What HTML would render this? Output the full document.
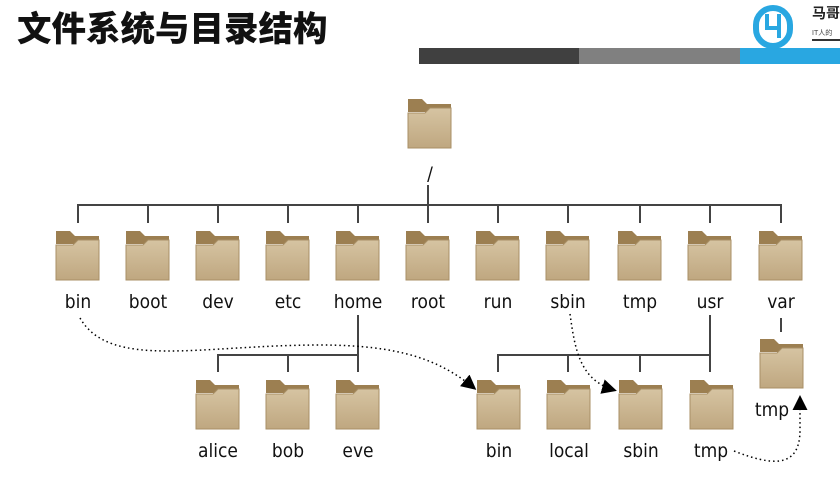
<!DOCTYPE html>
<html><head><meta charset="utf-8"><style>
body{margin:0;width:840px;height:479px;background:#fff;overflow:hidden;position:relative}
.t{position:absolute;left:17px;top:1px;font:900 34.5px "Liberation Sans","Noto Sans CJK SC",sans-serif;color:#111;letter-spacing:0px}
</style></head><body>
<div class="t">文件系统与目录结构</div>
<svg width="840" height="479" style="position:absolute;left:0;top:0">
<defs>
<linearGradient id="g" x1="0" y1="0" x2="0" y2="1"><stop offset="0" stop-color="#d6c4a2"/><stop offset="1" stop-color="#bfa780"/></linearGradient>
<g id="f">
<path d="M0,3 h14 l5,5 h24 v8 h-43z" fill="#9c7f51"/>
<path d="M0,17 h17 l5,-5 h21 v40 h-43z" fill="url(#g)" stroke="#a88f66" stroke-width="1"/>
</g>
<marker id="a" markerWidth="10" markerHeight="10" refX="8" refY="5" orient="auto"><path d="M0,0 L10,5 L0,10z" fill="#000"/></marker>
</defs>
<rect x="419" y="48" width="160" height="16" fill="#404040"/>
<rect x="579" y="48" width="161" height="16" fill="#808080"/>
<rect x="740" y="48" width="100" height="16" fill="#29a7e1"/>
<g fill="none" stroke="#29a7e1" stroke-width="6"><rect x="756" y="8" width="34" height="38" rx="17"/></g>
<path d="M767,14 v14 h12 M779,14 v24" stroke="#29a7e1" stroke-width="4" fill="none"/>
<text x="812" y="18" font-family="Liberation Sans,Noto Sans CJK SC,sans-serif" font-size="14" font-weight="bold" fill="#222">马哥</text>
<text x="812" y="35" font-family="Liberation Sans,Noto Sans CJK SC,sans-serif" font-size="7" fill="#444">IT人的</text>
<line x1="812" y1="40" x2="840" y2="40" stroke="#333" stroke-width="2"/>
<g stroke="#444" stroke-width="2" fill="none">
<path d="M428,185 V205 M78,223 V205 H781 V223"/>
<path d="M148,205V223M218,205V223M288,205V223M358,205V223M428,205V223M498,205V223M568,205V223M640,205V223M710,205V223"/>
<path d="M358,315 V355 H218 V372 M288,355V372 M358,355V372"/>
<path d="M710,315 V355 H498 V372 M568,355V372 M640,355V372 M710,355V372"/>
<path d="M781,318 V332"/>
</g>
<use href="#f" x="408" y="96"/>
<use href="#f" x="56" y="228"/><use href="#f" x="126" y="228"/><use href="#f" x="196" y="228"/><use href="#f" x="266" y="228"/><use href="#f" x="336" y="228"/><use href="#f" x="406" y="228"/><use href="#f" x="476" y="228"/><use href="#f" x="546" y="228"/><use href="#f" x="618" y="228"/><use href="#f" x="688" y="228"/><use href="#f" x="759" y="228"/>
<use href="#f" x="196" y="377"/><use href="#f" x="266" y="377"/><use href="#f" x="336" y="377"/>
<use href="#f" x="477" y="377"/><use href="#f" x="547" y="377"/><use href="#f" x="619" y="377"/><use href="#f" x="690" y="377"/>
<use href="#f" x="760" y="336"/>
<g font-family="DejaVu Sans Condensed,Liberation Sans,sans-serif" font-size="19" fill="#111" text-anchor="middle">
<text x="430" y="180">/</text>
<text x="78" y="308">bin</text><text x="148" y="308">boot</text><text x="218" y="308">dev</text><text x="288" y="308">etc</text><text x="358" y="308">home</text><text x="428" y="308">root</text><text x="498" y="308">run</text><text x="568" y="308">sbin</text><text x="640" y="308">tmp</text><text x="710" y="308">usr</text><text x="781" y="308">var</text>
<text x="218" y="457">alice</text><text x="288" y="457">bob</text><text x="358" y="457">eve</text>
<text x="499" y="457">bin</text><text x="569" y="457">local</text><text x="641" y="457">sbin</text><text x="711" y="457">tmp</text>
<text x="772" y="416">tmp</text>
</g>
<g stroke="#000" stroke-width="1.5" stroke-dasharray="1.5,3" fill="none">
<path d="M80,318 C110,370 200,345 320,345 C400,345 440,360 474,388" marker-end="url(#a)"/>
<path d="M570,314 C575,350 580,380 614,390" marker-end="url(#a)"/>
<path d="M734,451 C770,465 800,470 800,430 L800,398" marker-end="url(#a)"/>
</g>
</svg>
</body></html>
